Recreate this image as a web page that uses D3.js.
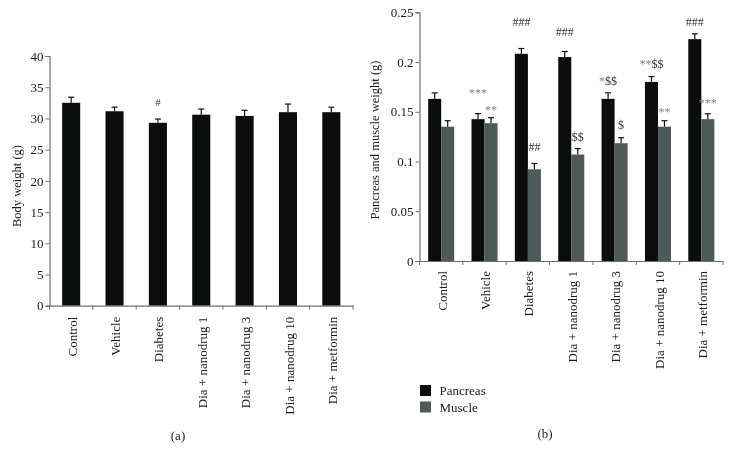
<!DOCTYPE html>
<html>
<head>
<meta charset="utf-8">
<script src="https://cdn.jsdelivr.net/npm/d3@7"></script>
<style>
  body { margin: 0; background: #fff; }
  svg { display: block; font-family: "Liberation Serif", "DejaVu Serif", serif; will-change: transform; }
  text { -webkit-font-smoothing: antialiased; }
</style>
</head>
<body>
<svg id="chart" width="733" height="460"></svg>
<script>
// ---------------- DATA ----------------
const categories = ["Control", "Vehicle", "Diabetes", "Dia + nanodrug 1", "Dia + nanodrug 3", "Dia + nanodrug 10", "Dia + metformin"];

// Panel (a): body weight (g)
const bodyWeight    = [32.5, 31.15, 29.3, 30.6, 30.4, 31.0, 31.0];
const bodyWeightErr = [0.9, 0.65, 0.6, 0.9, 0.9, 1.3, 0.8];
const bodyTicks = [0, 5, 10, 15, 20, 25, 30, 35, 40];
const bodyAnnot = [{ cat: "Diabetes", level: 32.0, text: "#" }];

// Panel (b): pancreas and muscle weight (g)
const seriesNames = ["Pancreas", "Muscle"];
const pancreas    = [0.163, 0.1426, 0.2083, 0.205, 0.163, 0.180, 0.223];
const pancreasErr = [0.006, 0.0056, 0.0053, 0.0056, 0.006, 0.0054, 0.0054];
const muscle      = [0.135, 0.1385, 0.0922, 0.107, 0.1184, 0.135, 0.1426];
const muscleErr   = [0.006, 0.0056, 0.0058, 0.006, 0.0056, 0.006, 0.0054];
const organTicks = [0, 0.05, 0.1, 0.15, 0.2, 0.25];
const organAnnot = [
  { cat: "Vehicle", series: "Pancreas", level: 0.1645, text: "***" },
  { cat: "Vehicle", series: "Muscle", level: 0.148, text: "**" },
  { cat: "Diabetes", series: "Pancreas", level: 0.236, text: "###" },
  { cat: "Diabetes", series: "Muscle", level: 0.1107, text: "##" },
  { cat: "Dia + nanodrug 1", series: "Pancreas", level: 0.2259, text: "###" },
  { cat: "Dia + nanodrug 1", series: "Muscle", level: 0.1207, text: "$$" },
  { cat: "Dia + nanodrug 3", series: "Pancreas", level: 0.1766, text: "*$$" },
  { cat: "Dia + nanodrug 3", series: "Muscle", level: 0.1328, text: "$" },
  { cat: "Dia + nanodrug 10", series: "Pancreas", level: 0.1942, text: "**$$" },
  { cat: "Dia + nanodrug 10", series: "Muscle", level: 0.1454, text: "**" },
  { cat: "Dia + metformin", series: "Pancreas", level: 0.236, text: "###" },
  { cat: "Dia + metformin", series: "Muscle", level: 0.1544, text: "***" }
];

// ---------------- STYLE ----------------
const colors = { Pancreas: "#0b0d0c", Muscle: "#4e5a5a" };
const axisColor = "#6f6f6f";
const textColor = "#1a1a1a";
const FS = 13;

const svg = d3.select("#chart");
svg.append("rect").attr("width", 733).attr("height", 460).attr("fill", "#fff");

function styleAxis(g) {
  g.select(".domain").attr("stroke", axisColor).attr("stroke-width", 1.2);
  g.selectAll(".tick line").attr("stroke", axisColor).attr("stroke-width", 1);
  g.selectAll(".tick text").attr("fill", textColor).style("font-size", FS + "px")
    .style("font-family", "'Liberation Serif', serif");
}

function annotText(sel, text) {
  // '*' characters in grey, others dark
  const parts = text.match(/(\*+|[^*]+)/g);
  parts.forEach(p => {
    sel.append("tspan").text(p).attr("fill", p[0] === "*" ? "#808080" : "#333");
  });
}

// ---------------- PANEL (a) ----------------
(function () {
  const x0 = d3.scaleBand().domain(categories).range([49.5, 353]).padding(0);
  const xi = d3.scaleBand().domain(["v"]).range([0, x0.bandwidth()]).paddingInner(0).paddingOuter(0.7);
  const y = d3.scaleLinear().domain([0, 40]).range([305.7, 56]);
  const g = svg.append("g");

  g.selectAll("rect.bar").data(categories).join("rect")
    .attr("x", (c) => x0(c) + xi("v"))
    .attr("y", (c, i) => y(bodyWeight[i]))
    .attr("width", xi.bandwidth())
    .attr("height", (c, i) => y(0) - y(bodyWeight[i]))
    .attr("fill", colors.Pancreas);

  categories.forEach((c, i) => {
    const cx = x0(c) + xi("v") + xi.bandwidth() / 2;
    const top = y(bodyWeight[i] + bodyWeightErr[i]);
    g.append("line").attr("x1", cx).attr("x2", cx).attr("y1", y(bodyWeight[i])).attr("y2", top)
      .attr("stroke", "#111").attr("stroke-width", 1.2);
    g.append("line").attr("x1", cx - 3).attr("x2", cx + 3).attr("y1", top).attr("y2", top)
      .attr("stroke", "#111").attr("stroke-width", 1.2);
  });

  bodyAnnot.forEach(a => {
    const cx = x0(a.cat) + xi("v") + xi.bandwidth() / 2;
    const t = g.append("text").attr("x", cx).attr("y", y(a.level))
      .attr("text-anchor", "middle").style("font-size", "11px");
    annotText(t, a.text);
  });

  const ya = g.append("g").attr("transform", "translate(49.5,0)")
    .call(d3.axisLeft(y).tickValues(bodyTicks).tickSize(4).tickPadding(2).tickFormat(d3.format("d")));
  styleAxis(ya);
  const xa = g.append("g").attr("transform", `translate(0,${y(0)})`)
    .call(d3.axisBottom(x0).tickSize(0).tickFormat(""));
  styleAxis(xa);
  const bounds = categories.map(c => x0(c)).concat([x0.range()[1]]);
  g.selectAll("line.btick").data(bounds).join("line")
    .attr("x1", d => d).attr("x2", d => d).attr("y1", y(0)).attr("y2", y(0) + 4)
    .attr("stroke", axisColor);

  g.selectAll("text.cat").data(categories).join("text")
    .attr("transform", c => `translate(${x0(c) + x0.bandwidth() / 2 + 1},${y(0) + 11}) rotate(-90)`)
    .attr("text-anchor", "end").attr("dy", "0.35em")
    .attr("fill", textColor).style("font-size", FS + "px").text(c => c);

  g.append("text").attr("transform", `translate(17,186) rotate(-90)`)
    .attr("text-anchor", "middle").attr("dy", "0.35em")
    .attr("fill", textColor).style("font-size", "12.5px").text("Body weight (g)");

  g.append("text").attr("x", 178).attr("y", 435).attr("text-anchor", "middle").attr("dy", "0.35em")
    .attr("fill", textColor).style("font-size", FS + "px").text("(a)");
})();

// ---------------- PANEL (b) ----------------
(function () {
  const values = { Pancreas: pancreas, Muscle: muscle };
  const errs = { Pancreas: pancreasErr, Muscle: muscleErr };
  const x0 = d3.scaleBand().domain(categories).range([419.5, 723]).padding(0);
  const x1 = d3.scaleBand().domain(seriesNames).range([0, x0.bandwidth()]).paddingInner(0).paddingOuter(0.665);
  const y = d3.scaleLinear().domain([0, 0.25]).range([261, 12.3]);
  const g = svg.append("g");

  const groups = g.selectAll("g.cat").data(categories).join("g")
    .attr("transform", c => `translate(${x0(c)},0)`);

  groups.selectAll("rect").data((c, i) => seriesNames.map(s => ({ s, v: values[s][i], e: errs[s][i] })))
    .join("rect")
    .attr("x", d => x1(d.s))
    .attr("y", d => y(d.v))
    .attr("width", x1.bandwidth())
    .attr("height", d => y(0) - y(d.v))
    .attr("fill", d => colors[d.s]);

  groups.each(function (c, i) {
    const gg = d3.select(this);
    seriesNames.forEach(s => {
      const cx = x1(s) + x1.bandwidth() / 2;
      const top = y(values[s][i] + errs[s][i]);
      gg.append("line").attr("x1", cx).attr("x2", cx).attr("y1", y(values[s][i])).attr("y2", top)
        .attr("stroke", "#111").attr("stroke-width", 1.2);
      gg.append("line").attr("x1", cx - 3).attr("x2", cx + 3).attr("y1", top).attr("y2", top)
        .attr("stroke", "#111").attr("stroke-width", 1.2);
    });
  });

  organAnnot.forEach(a => {
    const cx = x0(a.cat) + x1(a.series) + x1.bandwidth() / 2;
    const t = g.append("text").attr("x", cx).attr("y", y(a.level))
      .attr("text-anchor", "middle").style("font-size", "12px");
    annotText(t, a.text);
  });

  const ya = g.append("g").attr("transform", "translate(419.5,0)")
    .call(d3.axisLeft(y).tickValues(organTicks).tickSize(4).tickPadding(2).tickFormat(d => String(+d.toFixed(2))));
  styleAxis(ya);
  const xa = g.append("g").attr("transform", `translate(0,${y(0)})`)
    .call(d3.axisBottom(x0).tickSize(0).tickFormat(""));
  styleAxis(xa);
  const bounds = categories.map(c => x0(c)).concat([x0.range()[1]]);
  g.selectAll("line.btick").data(bounds).join("line")
    .attr("x1", d => d).attr("x2", d => d).attr("y1", y(0)).attr("y2", y(0) + 4)
    .attr("stroke", axisColor);

  g.selectAll("text.cat").data(categories).join("text")
    .attr("transform", c => `translate(${x0(c) + x0.bandwidth() / 2 + 1},${y(0) + 10}) rotate(-90)`)
    .attr("text-anchor", "end").attr("dy", "0.35em")
    .attr("fill", textColor).style("font-size", FS + "px").text(c => c);

  g.append("text").attr("transform", `translate(375,140) rotate(-90)`)
    .attr("text-anchor", "middle").attr("dy", "0.35em")
    .attr("fill", textColor).style("font-size", "12.5px").text("Pancreas and muscle weight (g)");

  const lg = g.append("g").attr("transform", "translate(420,385)");
  seriesNames.forEach((s, i) => {
    lg.append("rect").attr("x", 0).attr("y", i * 16.5).attr("width", 11).attr("height", 11).attr("fill", colors[s]);
    lg.append("text").attr("x", 19.5).attr("y", i * 16.5 + 5.5).attr("dy", "0.35em")
      .attr("fill", textColor).style("font-size", FS + "px").text(s);
  });

  g.append("text").attr("x", 545).attr("y", 433).attr("text-anchor", "middle").attr("dy", "0.35em")
    .attr("fill", textColor).style("font-size", FS + "px").text("(b)");
})();
</script>
</body>
</html>
